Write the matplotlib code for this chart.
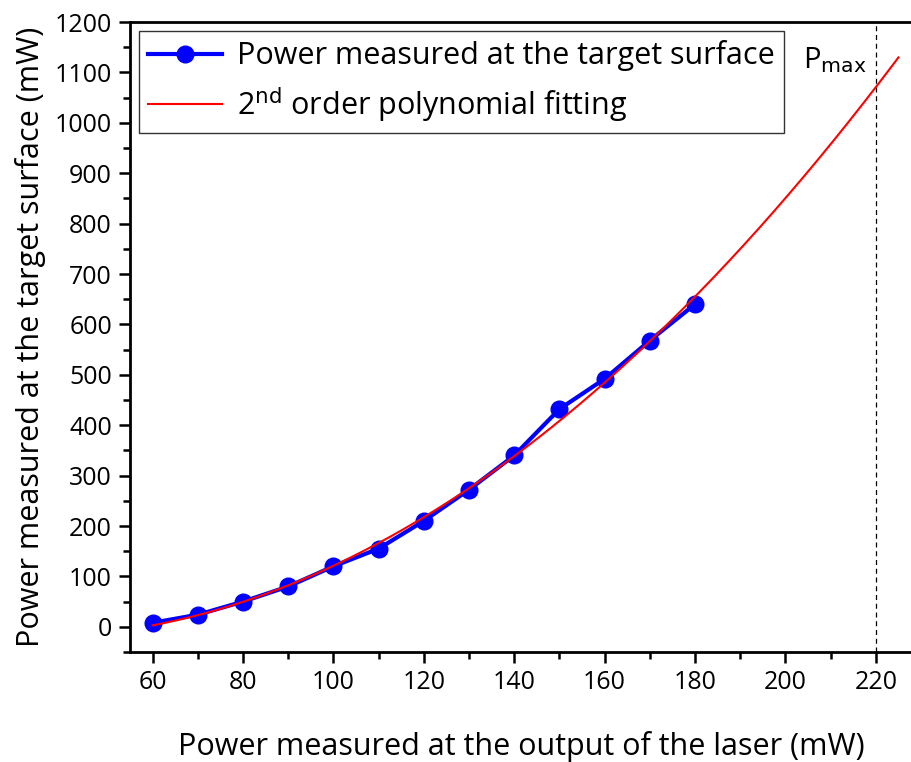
import numpy as np
import matplotlib.pyplot as plt
from matplotlib.ticker import MultipleLocator

plt.rcParams['font.family'] = ['Open Sans', 'DejaVu Sans']

# laser output power vs power reaching the target surface (mW)
laser_power = [60, 70, 80, 90, 100, 110, 120, 130, 140, 150, 160, 170, 180]
target_power = [8, 24, 50, 80, 120, 155, 210, 272, 340, 432, 492, 568, 640]

P_MAX = 220
FIT_RANGE = (60, 225)

# quadratic fit of the measured points, extended up to 225 mW
coef = np.polyfit(laser_power, target_power, 2)
xfit = np.linspace(FIT_RANGE[0], FIT_RANGE[1], 300)
yfit = np.polyval(coef, xfit)

fig = plt.figure(figsize=(9.12, 7.62), dpi=100)
ax = fig.add_axes([130 / 912, 110 / 762, 782 / 912, 630 / 762])

ax.plot(laser_power, target_power, '-o', color='blue', lw=3, ms=12,
        label='Power measured at the target surface', zorder=2)
ax.plot(xfit, yfit, '-', color='red', lw=1.5,
        label='2$^{\\mathrm{nd}}$ order polynomial fitting', zorder=3)
ax.axvline(P_MAX, color='black', ls=(0, (4, 3)), lw=0.9, zorder=1)
ax.text(P_MAX - 2, 1095, 'P$_{\\mathrm{max}}$', fontsize=21, ha='right', va='bottom')

ax.set_xlim(55, 228)
ax.set_ylim(-50, 1200)
ax.xaxis.set_major_locator(MultipleLocator(20))
ax.xaxis.set_minor_locator(MultipleLocator(10))
ax.yaxis.set_major_locator(MultipleLocator(100))
ax.yaxis.set_minor_locator(MultipleLocator(50))
ax.tick_params(which='major', length=8, width=1.8, labelsize=18, direction='out', pad=5)
ax.tick_params(which='minor', length=5, width=1.8, direction='out')
ax.spines['right'].set_visible(False)
for s in ('left', 'bottom', 'top'):
    ax.spines[s].set_linewidth(2)

ax.set_xlabel('Power measured at the output of the laser (mW)', fontsize=22, labelpad=26)
ax.set_ylabel('Power measured at the target surface (mW)', fontsize=22, labelpad=6)

leg = ax.legend(loc='upper left', fontsize=22, frameon=True, fancybox=False,
                edgecolor='black', borderaxespad=0.3, handlelength=2.4,
                borderpad=0.3, labelspacing=0.45, handletextpad=0.5)
leg.get_frame().set_linewidth(1.0)

fig.savefig('out.png', dpi=100)
